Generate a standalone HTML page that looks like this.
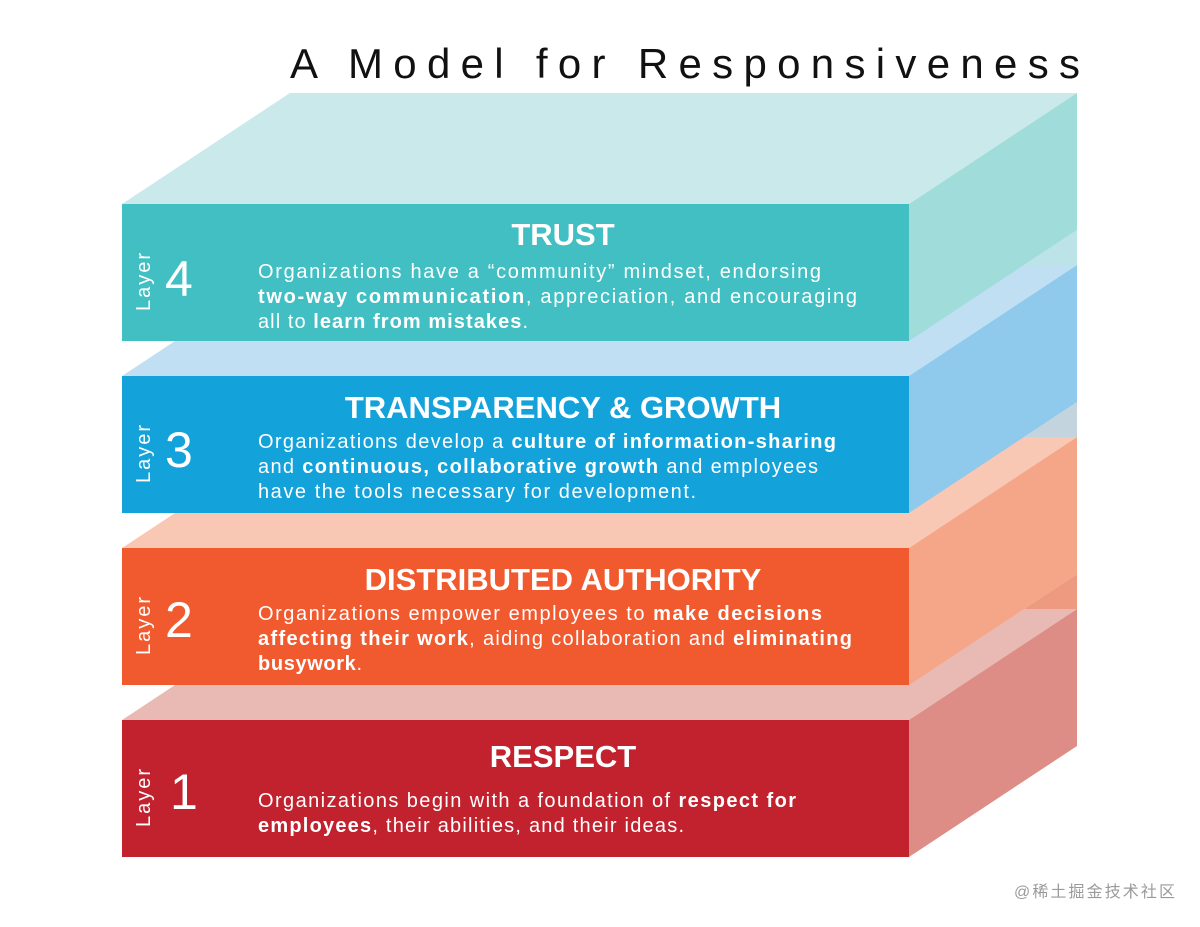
<!DOCTYPE html>
<html><head><meta charset="utf-8"><style>
html,body{margin:0;padding:0;background:#fff;}
svg{display:block;}
text{font-family:"Liberation Sans","Noto Sans CJK SC",sans-serif;}
.h{font-weight:bold;font-size:31px;fill:#fff;text-anchor:middle;}
.b{font-size:20px;fill:#fff;}
.b tspan.s{font-weight:bold;}
.l{font-size:20px;fill:#fff;letter-spacing:2px;}
.n{font-size:50px;fill:#fff;font-weight:normal;}
</style></head><body>
<svg width="1200" height="927" viewBox="0 0 1200 927" xmlns="http://www.w3.org/2000/svg">
<text x="290" y="78" font-size="42" fill="#111" textLength="790" lengthAdjust="spacing">A Model for Responsiveness</text>

<polygon points="122,720 290,609 1077,609 909,720" fill="#E9BAB3"/>
<polygon points="909,720 1077,609 1077,746 909,857" fill="#DE8C86"/>
<rect x="122" y="720" width="787" height="137" fill="#C1222E"/>
<polygon points="122,548 290,437 1077,437 909,548" fill="#F9C8B4"/>
<polygon points="909,548 1077,437 1077,574 909,685" fill="#F5A588"/>
<polygon points="909,685 1077,574 1077,609 1024,609" fill="#EE9A80"/>
<rect x="122" y="548" width="787" height="137" fill="#F15A2E"/>
<polygon points="122,376 290,265 1077,265 909,376" fill="#C0DFF3"/>
<polygon points="909,376 1077,265 1077,402 909,513" fill="#8FC9EC"/>
<polygon points="909,513 1077,402 1077,437 1024,437" fill="#9DB8C8" opacity="0.6"/>
<rect x="122" y="376" width="787" height="137" fill="#13A2DA"/>
<polygon points="122,204 290,93 1077,93 909,204" fill="#C9E9EB"/>
<polygon points="909,204 1077,93 1077,230 909,341" fill="#A0DCDA"/>
<polygon points="909,341 1077,230 1077,265 1024,265" fill="#8FD0D8" opacity="0.6"/>
<rect x="122" y="204" width="787" height="137" fill="#41BFC3"/>

<g>
<text class="l" transform="translate(150,311) rotate(-90)">Layer</text>
<text class="n" x="165" y="296">4</text>
<text class="h" x="563" y="245">TRUST</text>
<text class="b" x="258" y="278" textLength="563" lengthAdjust="spacing">Organizations have a “community” mindset, endorsing</text>
<text class="b" x="258" y="303" textLength="599" lengthAdjust="spacing"><tspan class="s">two-way communication</tspan>, appreciation, and encouraging</text>
<text class="b" x="258" y="328" textLength="270" lengthAdjust="spacing">all to <tspan class="s">learn from mistakes</tspan>.</text>

<text class="l" transform="translate(150,483) rotate(-90)">Layer</text>
<text class="n" x="165" y="467">3</text>
<text class="h" x="563" y="418">TRANSPARENCY &amp; GROWTH</text>
<text class="b" x="258" y="448" textLength="578" lengthAdjust="spacing">Organizations develop a <tspan class="s">culture of information-sharing</tspan></text>
<text class="b" x="258" y="473" textLength="560" lengthAdjust="spacing">and <tspan class="s">continuous, collaborative growth</tspan> and employees</text>
<text class="b" x="258" y="498" textLength="438" lengthAdjust="spacing">have the tools necessary for development.</text>

<text class="l" transform="translate(150,655) rotate(-90)">Layer</text>
<text class="n" x="165" y="637">2</text>
<text class="h" x="563" y="590">DISTRIBUTED AUTHORITY</text>
<text class="b" x="258" y="620" textLength="564" lengthAdjust="spacing">Organizations empower employees to <tspan class="s">make decisions</tspan></text>
<text class="b" x="258" y="645" textLength="594" lengthAdjust="spacing"><tspan class="s">affecting their work</tspan>, aiding collaboration and <tspan class="s">eliminating</tspan></text>
<text class="b" x="258" y="670" textLength="104" lengthAdjust="spacing"><tspan class="s">busywork</tspan>.</text>

<text class="l" transform="translate(150,827) rotate(-90)">Layer</text>
<text class="n" x="170" y="809">1</text>
<text class="h" x="563" y="767">RESPECT</text>
<text class="b" x="258" y="807" textLength="538" lengthAdjust="spacing">Organizations begin with a foundation of <tspan class="s">respect for</tspan></text>
<text class="b" x="258" y="832" textLength="426" lengthAdjust="spacing"><tspan class="s">employees</tspan>, their abilities, and their ideas.</text>
</g>

<text x="1014" y="897" font-size="16" fill="#9a9a9a" textLength="161" lengthAdjust="spacing">@稀土掘金技术社区</text>
</svg>
</body></html>
